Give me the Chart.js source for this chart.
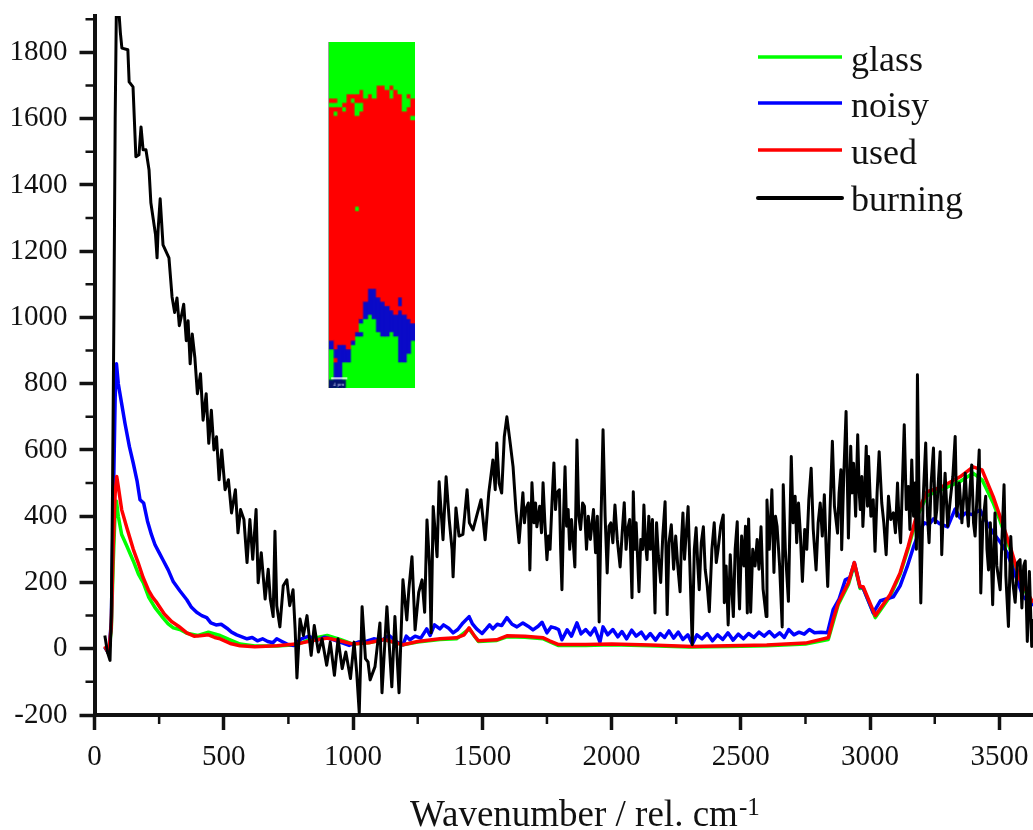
<!DOCTYPE html>
<html><head><meta charset="utf-8">
<style>
html,body{margin:0;padding:0;background:#fff;overflow:hidden}
#wrap{position:relative;width:1033px;height:830px}
#main{position:absolute;left:0;top:0}
#inset{position:absolute;left:328px;top:42px;width:87px!important;height:346px!important;border-left:1px solid #9aa89a;box-sizing:border-box;filter:blur(0.6px)}
</style>
<script src="https://cdn.jsdelivr.net/npm/chart.js@4/dist/chart.umd.min.js"></script>
</head><body><div id="wrap"><canvas id="main" width="1033" height="830"></canvas><canvas id="inset" width="80" height="320"></canvas></div>
<script>
const seriesNames = ["glass","noisy","used","burning"];
const seriesColors = ["#00ff00","#0000ff","#ff0000","#000000"];
const xTitle = "Wavenumber / rel. cm";
const xTitleSup = "-1";
const xTickValues = [0,500,1000,1500,2000,2500,3000,3500];
const xMinorValues = [250,750,1250,1750,2250,2750,3250];
const yTickValues = [-200,0,200,400,600,800,1000,1200,1400,1600,1800];
const yMinorValues = [-100,100,300,500,700,900,1100,1300,1500,1700,1900];

const glass = [[40,5],[55,-15],[65,60],[72,250],[80,420],[85,445],[92,400],[105,345],[125,310],[150,265],[170,225],[189,199],[210,155],[234,124],[260,98],[285,75],[305,63],[330,58],[357,47],[400,40],[441,50],[486,40],[520,28],[563,14],[620,8],[705,8],[780,12],[840,30],[900,40],[950,28],[1000,14],[1060,18],[1120,28],[1193,12],[1250,20],[1336,28],[1400,30],[1449,60],[1485,22],[1556,25],[1595,36],[1665,35],[1736,30],[1793,10],[1900,10],[2000,12],[2150,9],[2300,5],[2450,7],[2600,9],[2750,14],[2838,28],[2877,134],[2916,194],[2939,255],[2961,182],[2973,183],[3020,94],[3077,158],[3116,225],[3147,302],[3182,400],[3220,462],[3270,478],[3348,505],[3398,530],[3433,510],[3476,440],[3503,385],[3542,298],[3580,200],[3630,135]];
const noisy = [[40,5],[55,-15],[65,80],[72,400],[80,760],[85,860],[92,800],[105,740],[118,680],[135,610],[150,560],[165,505],[176,450],[190,440],[205,385],[220,345],[234,314],[250,290],[265,268],[285,238],[305,202],[330,175],[357,148],[375,125],[395,110],[415,100],[434,94],[450,78],[470,72],[490,74],[512,62],[530,50],[550,42],[570,36],[590,30],[610,34],[630,24],[650,30],[670,22],[690,18],[705,30],[725,22],[745,14],[770,10],[800,30],[830,38],[860,25],[890,35],[920,28],[950,20],[985,10],[1020,20],[1050,22],[1080,30],[1110,25],[1140,40],[1170,20],[1193,12],[1206,38],[1220,27],[1240,38],[1262,32],[1285,60],[1298,40],[1315,72],[1336,60],[1350,72],[1370,62],[1387,48],[1405,58],[1425,78],[1449,97],[1462,75],[1478,60],[1499,46],[1515,60],[1528,72],[1541,60],[1558,74],[1575,70],[1595,94],[1615,74],[1634,66],[1657,78],[1677,68],[1696,57],[1716,68],[1731,80],[1750,48],[1766,66],[1781,63],[1795,58],[1808,27],[1828,57],[1845,38],[1866,78],[1882,45],[1900,58],[1918,42],[1935,62],[1955,20],[1967,66],[1985,42],[2005,58],[2024,36],[2040,52],[2058,30],[2078,56],[2095,38],[2115,50],[2132,30],[2150,46],[2170,26],[2188,46],[2205,34],[2222,54],[2240,32],[2258,50],[2276,28],[2295,42],[2312,14],[2330,42],[2350,30],[2370,46],[2390,24],[2410,42],[2430,28],[2450,48],[2470,26],[2490,44],[2510,30],[2530,46],[2550,34],[2570,50],[2590,38],[2610,52],[2630,36],[2650,48],[2668,34],[2685,58],[2705,42],[2725,50],[2745,44],[2765,58],[2785,48],[2810,50],[2835,48],[2857,118],[2880,150],[2904,208],[2922,215],[2939,260],[2961,187],[2973,183],[3012,108],[3040,145],[3090,157],[3116,190],[3143,247],[3168,308],[3193,359],[3210,380],[3228,375],[3245,392],[3268,378],[3300,368],[3316,398],[3329,422],[3348,395],[3370,410],[3395,405],[3425,419],[3445,390],[3476,350],[3505,320],[3530,290],[3560,225],[3592,157],[3630,130]];
const used = [[40,8],[55,-15],[65,70],[72,300],[80,470],[86,520],[92,490],[105,420],[125,365],[150,300],[169,259],[188,215],[208,178],[225,155],[241,139],[270,105],[298,82],[325,68],[357,48],[385,38],[408,39],[441,42],[465,34],[486,30],[525,16],[563,9],[620,6],[705,9],[780,14],[840,24],[900,32],[950,24],[1000,14],[1060,18],[1120,28],[1193,12],[1250,22],[1336,30],[1400,33],[1430,42],[1449,63],[1470,38],[1485,24],[1556,27],[1595,39],[1665,38],[1736,33],[1760,24],[1793,13],[1900,13],[2000,14],[2150,11],[2312,7],[2450,9],[2600,11],[2750,17],[2838,33],[2857,88],[2877,139],[2916,199],[2939,260],[2961,187],[2973,187],[3020,100],[3077,163],[3116,229],[3147,308],[3182,410],[3220,474],[3270,486],[3348,519],[3398,549],[3433,540],[3476,459],[3503,398],[3542,308],[3580,208],[3630,139]];
const burning = [[40,40],[50,-10],[60,-35],[65,100],[70,500],[75,1000],[80,1600],[85,1960],[92,1950],[100,1860],[106,1813],[129,1808],[134,1711],[149,1696],[160,1485],[172,1491],[180,1575],[188,1506],[199,1506],[211,1445],[218,1346],[236,1250],[242,1180],[246,1264],[254,1358],[265,1219],[288,1180],[300,1062],[310,1015],[319,1059],[328,975],[335,1000],[345,1040],[355,930],[362,990],[370,860],[378,950],[388,880],[398,770],[410,830],[420,690],[432,770],[442,620],[452,720],[462,600],[472,640],[482,510],[492,600],[505,480],[518,510],[530,410],[545,480],[555,350],[565,420],[578,390],[590,260],[601,390],[612,270],[625,420],[633,199],[645,290],[660,150],[672,240],[680,150],[691,97],[698,355],[705,130],[717,66],[730,190],[744,208],[755,130],[768,178],[776,60],[783,-88],[795,90],[808,40],[822,100],[838,-20],[850,70],[866,-10],[880,30],[898,-50],[912,20],[928,-80],[942,30],[958,-60],[972,-10],[990,-90],[1004,20],[1014,-70],[1024,-193],[1035,127],[1048,-30],[1058,-40],[1066,-94],[1085,-54],[1104,78],[1112,-133],[1131,127],[1150,-115],[1162,97],[1178,-133],[1193,208],[1208,87],[1216,180],[1228,278],[1240,57],[1254,170],[1267,208],[1277,110],[1286,389],[1296,250],[1302,48],[1310,429],[1325,278],[1333,504],[1348,329],[1360,519],[1372,390],[1383,299],[1387,217],[1398,425],[1410,340],[1425,345],[1441,480],[1450,380],[1464,359],[1478,400],[1495,450],[1511,329],[1525,470],[1541,570],[1550,480],[1556,621],[1565,500],[1575,470],[1585,640],[1595,700],[1608,620],[1619,549],[1630,420],[1642,320],[1650,400],[1657,471],[1663,380],[1668,420],[1678,440],[1684,238],[1692,501],[1700,380],[1706,440],[1711,368],[1722,430],[1729,350],[1735,501],[1742,380],[1750,269],[1756,340],[1762,300],[1770,450],[1777,561],[1783,420],[1788,470],[1798,480],[1803,300],[1808,178],[1815,420],[1820,549],[1826,370],[1832,420],[1838,300],[1845,390],[1851,330],[1858,247],[1866,630],[1873,400],[1880,360],[1888,440],[1895,430],[1903,300],[1910,400],[1918,330],[1930,420],[1938,290],[1945,400],[1952,81],[1958,350],[1967,661],[1975,400],[1983,229],[1990,370],[1997,380],[2005,320],[2013,434],[2022,330],[2033,247],[2041,350],[2049,441],[2056,300],[2062,360],[2070,390],[2079,154],[2084,474],[2090,300],[2095,380],[2106,172],[2113,330],[2120,300],[2125,434],[2131,320],[2137,269],[2144,400],[2150,300],[2158,390],[2168,108],[2174,380],[2181,280],[2190,200],[2198,340],[2207,444],[2215,103],[2222,320],[2231,374],[2240,240],[2248,340],[2256,250],[2265,172],[2270,320],[2276,410],[2282,270],[2287,330],[2296,429],[2304,220],[2312,12],[2320,300],[2327,365],[2333,260],[2339,178],[2347,320],[2355,368],[2362,240],[2370,190],[2378,112],[2388,300],[2397,380],[2405,260],[2412,300],[2422,370],[2432,404],[2436,139],[2443,250],[2451,72],[2459,284],[2465,180],[2471,97],[2478,300],[2486,383],[2491,200],[2495,120],[2503,340],[2512,250],[2518,370],[2525,108],[2530,392],[2538,110],[2546,300],[2555,250],[2563,330],[2570,240],[2578,368],[2586,180],[2598,97],[2601,449],[2610,300],[2620,480],[2628,230],[2634,400],[2640,370],[2650,250],[2660,66],[2664,495],[2672,300],[2684,143],[2695,580],[2702,380],[2710,460],[2716,320],[2723,440],[2730,350],[2738,203],[2747,360],[2755,300],[2763,450],[2772,545],[2780,360],[2791,238],[2799,380],[2807,440],[2815,340],[2823,465],[2830,300],[2836,188],[2845,420],[2854,626],[2862,430],[2874,349],[2880,470],[2887,540],[2890,299],[2898,520],[2907,716],[2916,334],[2925,611],[2930,470],[2936,560],[2944,400],[2952,646],[2958,470],[2962,420],[2968,520],[2972,369],[2980,500],[2985,611],[2990,430],[2994,580],[3003,400],[3012,450],[3019,294],[3027,470],[3035,595],[3045,440],[3053,380],[3062,284],[3071,460],[3080,390],[3090,410],[3098,350],[3106,500],[3112,380],[3118,320],[3125,500],[3132,676],[3140,420],[3148,490],[3154,360],[3161,570],[3168,400],[3174,500],[3179,300],[3183,827],[3190,400],[3196,138],[3205,450],[3215,621],[3222,400],[3228,320],[3236,500],[3245,606],[3252,380],[3258,420],[3265,520],[3271,595],[3277,284],[3284,440],[3290,530],[3300,370],[3310,450],[3320,520],[3329,641],[3335,400],[3345,500],[3355,380],[3368,530],[3375,420],[3380,370],[3386,480],[3393,555],[3400,380],[3406,340],[3414,470],[3422,600],[3428,168],[3436,380],[3447,460],[3452,300],[3458,238],[3465,380],[3474,133],[3483,410],[3490,250],[3503,178],[3510,330],[3518,495],[3525,220],[3535,67],[3544,339],[3552,200],[3561,140],[3570,260],[3580,269],[3587,123],[3594,250],[3600,265],[3608,22],[3616,233],[3625,7],[3630,90]];

// inset map: runs per column (colour letter + run length), top to bottom
const insetPalette = {G:"#00ff00",R:"#ff0000",B:"#0a0ac8",D:"#04146e"};
const insetColumns = [
 "G13 R1 G1 R54 B2 G7 D2","G13 R1 G1 R1 G1 R54 B2 R1 B4 D2","G15 R55 B8 D2","G14 R1 G1 R54 B4 G4 D2",
 "G12 R59 B3 G6","G12 R1 G1 R55 B1 G10","G12 R2 G3 R21 G1 R28 B1 G12","G11 R3 G2 R48 B1 G2 B1 G12",
 "G13 R47 B4 G16","G12 R45 B6 G17","G13 R44 B7 G16","G10 R49 B8 G13",
 "G10 R50 B8 G12","G11 R50 B7 G12","G10 R1 G2 R49 B5 G13","G11 R52 B5 G12",
 "G12 R47 B2 R1 B12 G6","G16 R47 B11 G6","G12 R1 G2 R49 B8 G8","G13 R4 G1 R47 B4 G11"];
const insetScaleLabel = "4 µm";

const toXY = a => a.map(p => ({x:p[0],y:p[1]}));
const serif = '"Liberation Serif","Times New Roman",serif';
const ink = "#111";
const setTicks = vals => s => { s.ticks = vals.map(v=>({value:v})); };
const noPadding = s => { s.paddingLeft=0; s.paddingRight=0; s.paddingTop=0; s.paddingBottom=0; };

const decor = {
  id:"decor",
  afterDraw(c){
    const g=c.ctx, X=c.scales.x, Y=c.scales.y, a=c.chartArea;
    g.save();
    g.strokeStyle=ink; g.lineWidth=2.5;
    g.beginPath();
    yMinorValues.forEach(v=>{const p=Y.getPixelForValue(v);g.moveTo(a.left,p);g.lineTo(a.left-9,p);});
    xMinorValues.forEach(v=>{const p=X.getPixelForValue(v);g.moveTo(p,a.bottom);g.lineTo(p,a.bottom+9);});
    g.stroke();
    g.fillStyle=ink; g.textBaseline="alphabetic"; g.textAlign="left";
    g.font="37px "+serif; g.fillText(xTitle,410,826);
    g.font="25px "+serif; g.fillText(xTitleSup,739,815);
    const ly=[57,103,150,198];
    seriesNames.forEach((n,i)=>{
      g.strokeStyle=seriesColors[i]; g.lineWidth=i==3?4:3.5; g.lineCap=i==3?"round":"butt";
      g.beginPath(); g.moveTo(758,ly[i]); g.lineTo(842,ly[i]); g.stroke();
      g.fillStyle=ink; g.font="36px "+serif; g.textBaseline="alphabetic"; g.textAlign="left";
      g.fillText(n,851,ly[i]+(i==3?13:14));
    });
    g.restore();
  }
};

new Chart(document.getElementById("main"),{
  type:"line",
  data:{datasets:[glass,noisy,used,burning].map((d,i)=>({
    label:seriesNames[i],data:toXY(d),borderColor:seriesColors[i],backgroundColor:seriesColors[i],
    borderWidth:i==3?3:3.5,pointRadius:0,tension:0,fill:false,order:[3,2,1,0][i],borderJoinStyle:"round"}))},
  plugins:[decor],
  options:{
    responsive:false,animation:false,devicePixelRatio:1,
    layout:{padding:{top:16,right:0,left:0,bottom:0}},
    plugins:{legend:{display:false},tooltip:{enabled:false},title:{display:false}},
    scales:{
      x:{type:"linear",min:0,max:3630,
        afterBuildTicks:setTicks(xTickValues),
        afterFit(s){s.height=115;noPadding(s);},
        border:{display:true,color:ink,width:4},
        grid:{drawOnChartArea:false,drawTicks:true,tickLength:15,tickWidth:3.5,tickColor:ink},
        ticks:{maxRotation:0,autoSkip:false,padding:10,color:ink,font:{family:serif,size:29},callback:v=>String(v)}},
      y:{type:"linear",min:-200,max:1910,
        afterBuildTicks:setTicks(yTickValues),
        afterFit(s){s.width=94.5;noPadding(s);},
        border:{display:true,color:ink,width:4},
        grid:{drawOnChartArea:false,drawTicks:true,tickLength:15,tickWidth:3.5,tickColor:ink},
        ticks:{autoSkip:false,padding:12,color:ink,font:{family:serif,size:29},callback:v=>String(v)}}
    }
  }
});

const runs = insetColumns.map(s=>s.split(" ").map(t=>({c:t[0],n:+t.slice(1)})));
const depth = Math.max(...runs.map(r=>r.length));
const insetSets=[];
for(let k=0;k<depth;k++){
  insetSets.push({data:runs.map(r=>r[k]?r[k].n:0),
    backgroundColor:runs.map(r=>r[k]?insetPalette[r[k].c]:"#00ff00"),
    borderWidth:0,barPercentage:1,categoryPercentage:1,stack:"map"});
}
const insetDecor={id:"insetDecor",afterDraw(c){
  const g=c.ctx; g.save();
  g.strokeStyle="#fff"; g.lineWidth=1.5; g.beginPath(); g.moveTo(2,c.height-9); g.lineTo(17,c.height-9); g.stroke();
  g.fillStyle="#cfd8ff"; g.font="5px "+serif; g.textAlign="center"; g.textBaseline="alphabetic";
  g.fillText(insetScaleLabel,9,c.height-2); g.restore();
}};
new Chart(document.getElementById("inset"),{
  type:"bar",
  data:{labels:insetColumns.map((_,i)=>i),datasets:insetSets},
  plugins:[insetDecor],
  options:{responsive:false,animation:false,devicePixelRatio:1,
    layout:{padding:0},
    plugins:{legend:{display:false},tooltip:{enabled:false}},
    scales:{x:{display:false,stacked:true},y:{display:false,stacked:true,reverse:true,min:0,max:80}}}
});
</script></body></html>
